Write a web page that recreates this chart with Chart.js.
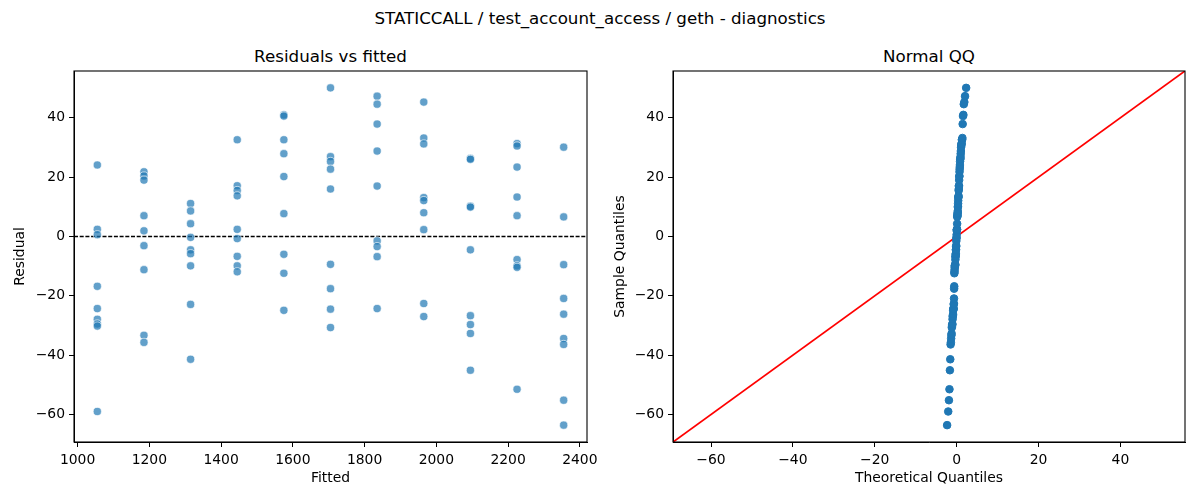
<!DOCTYPE html>
<html>
<head>
<meta charset="utf-8">
<script src="https://cdn.jsdelivr.net/npm/chart.js@4.4.1/dist/chart.umd.min.js"></script>
<style>
  body { margin: 0; background: #fff; }
  #fig { position: relative; width: 1200px; height: 500px; font-family: "DejaVu Sans", sans-serif; color: #000; }
  canvas { position: absolute; top: 0; }
  .ttl { position: absolute; font-size: 16.7px; line-height: 20px; text-align: center; white-space: nowrap; }
</style>
</head>
<body>
<div id="fig">
  <div class="ttl" style="left:0; width:1200px; top:8px;">STATICCALL / test_account_access / geth - diagnostics</div>
  <div class="ttl" style="left:74px; width:513px; top:46px;">Residuals vs fitted</div>
  <div class="ttl" style="left:673px; width:512px; top:46px;">Normal QQ</div>
  <canvas id="resid" width="600" height="500" style="left:0"></canvas>
  <canvas id="qq" width="600" height="500" style="left:600px"></canvas>
</div>
<script>
const fittedLevels = [1055, 1185, 1315, 1445, 1575, 1705, 1835, 1965, 2095, 2225, 2355];
const residualsByLevel = [
  [24.1, 2.4, 0.6, -16.8, -24.3, -27.9, -29.5, -30.2, -59.0],
  [21.8, 20.4, 19.0, 7.0, 1.9, -3.1, -11.2, -33.3, -35.7],
  [11.1, 8.6, 4.3, -0.3, -4.5, -5.8, -9.9, -22.9, -41.4],
  [32.6, 17.1, 15.5, 13.7, 2.4, -0.7, -6.7, -9.9, -11.9],
  [41.0, 40.6, 32.6, 27.9, 20.2, 7.7, -6.0, -12.4, -24.9],
  [50.1, 26.9, 25.3, 22.7, 16.0, -9.4, -17.6, -24.5, -30.7],
  [47.3, 44.6, 37.9, 28.8, 17.0, -1.5, -3.4, -6.8, -24.3],
  [45.3, 33.2, 31.2, 13.1, 12.1, 8.0, 2.3, -22.6, -27.0],
  [26.3, 26.0, 10.2, 9.9, -4.5, -26.7, -29.7, -32.7, -45.1],
  [31.3, 30.5, 23.4, 13.3, 7.0, -7.8, -9.9, -10.4, -51.5],
  [30.1, 6.6, -9.5, -20.9, -26.2, -34.4, -36.4, -55.2, -63.6]
];
const fittedTicks = [1000, 1200, 1400, 1600, 1800, 2000, 2200, 2400];
const residTicks = [-60, -40, -20, 0, 20, 40];
const qqTicks = [-60, -40, -20, 0, 20, 40];

const residPoints = [];
fittedLevels.forEach((f, i) => residualsByLevel[i].forEach(r => residPoints.push({ x: f, y: r })));
const allResid = residPoints.map(p => p.y);

// matplotlib-style 5% margins
function padRange(vals) {
  const lo = Math.min(...vals), hi = Math.max(...vals), m = (hi - lo) * 0.05;
  return [lo - m, hi + m];
}
const [fitLo, fitHi] = padRange(fittedLevels);
const [resLo, resHi] = padRange(allResid);

// inverse normal cdf (Acklam) for the theoretical quantiles
function normPpf(p) {
  const a = [-3.969683028665376e+01, 2.209460984245205e+02, -2.759285104469687e+02, 1.383577518672690e+02, -3.066479806614716e+01, 2.506628277459239e+00];
  const b = [-5.447609879822406e+01, 1.615858368580409e+02, -1.556989798598866e+02, 6.680131188771972e+01, -1.328068155288572e+01];
  const c = [-7.784894002430293e-03, -3.223964580411365e-01, -2.400758277161838e+00, -2.549732539343734e+00, 4.374664141464968e+00, 2.938163982698783e+00];
  const d = [7.784695709041462e-03, 3.224671290700398e-01, 2.445134137142996e+00, 3.754408661907416e+00];
  const tail = q => (((((c[0]*q+c[1])*q+c[2])*q+c[3])*q+c[4])*q+c[5]) / ((((d[0]*q+d[1])*q+d[2])*q+d[3])*q+1);
  if (p < 0.02425) return tail(Math.sqrt(-2 * Math.log(p)));
  if (p > 1 - 0.02425) return -tail(Math.sqrt(-2 * Math.log(1 - p)));
  const q = p - 0.5, r = q * q;
  return (((((a[0]*r+a[1])*r+a[2])*r+a[3])*r+a[4])*r+a[5])*q / (((((b[0]*r+b[1])*r+b[2])*r+b[3])*r+b[4])*r+1);
}
const sortedResid = allResid.slice().sort((u, v) => u - v);
const n = sortedResid.length;
const qqPoints = sortedResid.map((y, i) => ({ x: normPpf((i + 1) / (n + 1)), y }));
const qqLo = Math.min(resLo, qqPoints[0].x), qqHi = Math.max(resHi, qqPoints[n - 1].x);

Chart.defaults.font.family = "'DejaVu Sans', sans-serif";
Chart.defaults.font.size = 13.9;
Chart.defaults.color = '#000';
Chart.defaults.animation = false;

const framePlugin = {
  id: 'frame',
  afterDatasetsDraw(chart) {
    const { ctx, chartArea: a } = chart;
    ctx.save();
    ctx.strokeStyle = '#000';
    ctx.lineWidth = 1.1;
    ctx.strokeRect(a.left, a.top, a.right - a.left, a.bottom - a.top);
    ctx.restore();
  }
};

const minus = v => String(v).replace('-', '\u2212');

function axis(min, max, ticks, title, isY, width) {
  return {
    type: 'linear',
    min, max,
    afterBuildTicks: s => { s.ticks = ticks.map(v => ({ value: v })); },
    afterFit: s => {
      if (isY) s.width = width; else s.height = 58;
      // keep tick label overhang from shrinking the plot area
      s.paddingLeft = s.paddingRight = s.paddingTop = s.paddingBottom = 0;
    },
    grid: { display: true, drawOnChartArea: false, drawTicks: true, tickLength: 5, tickColor: '#000', tickWidth: 1 },
    border: { display: true, color: '#000', width: 1 },
    ticks: { padding: isY ? 4 : 5, callback: minus, autoSkip: false, maxRotation: 0 },
    title: {
      display: true, text: title, font: { size: 13.9 },
      padding: isY ? { top: 12, bottom: 0 } : { top: 0, bottom: 13 }
    }
  };
}

function baseOptions(padRight) {
  return {
    responsive: false,
    layout: { padding: { top: 71, right: padRight, bottom: 0, left: 0 }, autoPadding: false },
    plugins: { legend: { display: false }, tooltip: { enabled: false } },
    events: []
  };
}

new Chart(document.getElementById('resid'), {
  type: 'scatter',
  data: {
    datasets: [
      {
        data: residPoints,
        backgroundColor: 'rgba(31,119,180,0.7)',
        borderColor: 'rgba(255,255,255,0.9)',
        borderWidth: 0.7,
        pointRadius: 4.1
      },
      {
        data: [{ x: fitLo, y: 0 }, { x: fitHi, y: 0 }],
        showLine: true,
        pointRadius: 0,
        borderColor: '#000',
        borderWidth: 1.3,
        borderDash: [4, 1.7]
      }
    ]
  },
  options: Object.assign(baseOptions(13), {
    scales: {
      x: axis(fitLo, fitHi, fittedTicks, 'Fitted', false),
      y: axis(resLo, resHi, residTicks, 'Residual', true, 74)
    }
  }),
  plugins: [framePlugin]
});

new Chart(document.getElementById('qq'), {
  type: 'scatter',
  data: {
    datasets: [
      {
        data: qqPoints,
        backgroundColor: '#1f77b4',
        borderColor: '#1f77b4',
        borderWidth: 1,
        pointRadius: 3.8
      },
      {
        data: [{ x: qqLo, y: qqLo }, { x: qqHi, y: qqHi }],
        showLine: true,
        pointRadius: 0,
        borderColor: '#ff0000',
        borderWidth: 1.8
      }
    ]
  },
  options: Object.assign(baseOptions(15), {
    scales: {
      x: axis(qqLo, qqHi, qqTicks, 'Theoretical Quantiles', false),
      y: axis(qqLo, qqHi, residTicks, 'Sample Quantiles', true, 73)
    }
  }),
  plugins: [framePlugin]
});
</script>
</body>
</html>
